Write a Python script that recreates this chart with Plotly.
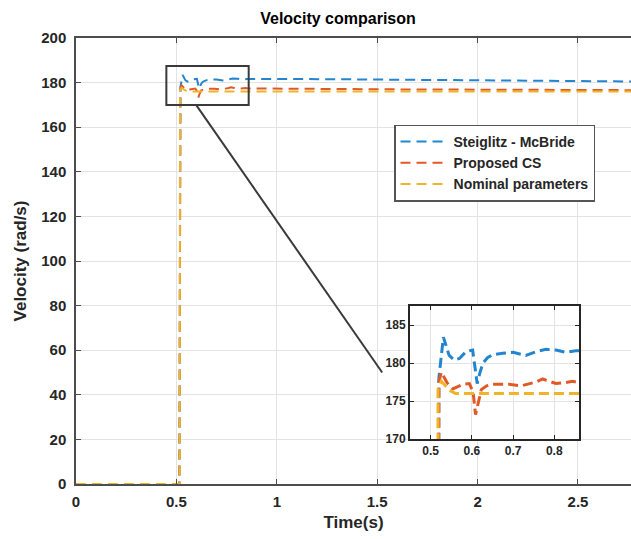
import plotly.graph_objects as go

# Step response of the motor speed for three identified models
t_sm = [0.0, 0.515, 0.52, 0.531, 0.545, 0.557, 0.57, 0.586, 0.602, 0.608, 0.613, 0.619,
        0.627, 0.638, 0.651, 0.675, 0.70, 0.731, 0.756, 0.78, 0.804, 0.828, 0.852,
        0.95, 1.1, 1.3, 1.5, 1.8, 2.0, 2.3, 2.6, 2.8]
v_sm = [0.0, 0.0, 178.0, 183.4, 181.0, 180.4, 180.6, 181.5, 181.7, 179.5, 177.3, 178.6,
        180.0, 180.7, 181.1, 181.3, 181.4, 181.0, 181.5, 181.8, 181.7, 181.4, 181.6,
        181.7, 181.6, 181.5, 181.4, 181.2, 181.0, 180.8, 180.6, 180.5]

t_cs = [0.0, 0.515, 0.52, 0.526, 0.54, 0.554, 0.566, 0.578, 0.594, 0.603, 0.609, 0.615,
        0.623, 0.636, 0.65, 0.69, 0.72, 0.756, 0.772, 0.788, 0.804, 0.824, 0.844, 0.86,
        0.95, 1.2, 1.5, 1.8, 2.1, 2.4, 2.8]
v_cs = [0.0, 0.0, 177.5, 178.8, 177.4, 176.6, 176.9, 177.2, 177.3, 176.2, 173.2, 174.8,
        176.5, 177.0, 177.2, 177.2, 177.0, 177.5, 177.9, 177.6, 177.3, 177.4, 177.6, 177.4,
        177.3, 177.2, 177.0, 176.9, 176.8, 176.7, 176.6]

t_nom = [0.0, 0.516, 0.518, 0.526, 0.536, 0.546, 0.56, 0.6, 0.8, 1.2, 1.6, 2.0, 2.4, 2.8]
v_nom = [0.0, 0.0, 176.5, 177.6, 177.0, 176.4, 176.0, 176.0, 176.0, 176.0, 176.0, 176.0, 176.0, 176.0]

series_names = ["Steiglitz - McBride", "Proposed CS", "Nominal parameters"]
series_colors = ["#2384d0", "#e05a28", "#efb429"]
series_t = [t_sm, t_cs, t_nom]
series_v = [v_sm, v_cs, v_nom]

main_yticks = list(range(0, 201, 20))
main_xticks = [0, 0.5, 1, 1.5, 2, 2.5]
main_xticklabels = ["0", "0.5", "1", "1.5", "2", "2.5"]
inset_xticks = [0.5, 0.6, 0.7, 0.8]
inset_yticks = [170, 175, 180, 185]

# zoom window shown in the inset
zoom_x = [0.45, 0.86]
zoom_y = [170, 187.5]

FONT = "Liberation Sans, Arial, sans-serif"
TXT = "#262626"

fig = go.Figure()

for name, col, tt, vv in zip(series_names, series_colors, series_t, series_v):
    fig.add_trace(go.Scatter(
        x=tt, y=vv, mode="lines", name=name,
        line=dict(color=col, width=2, dash="10px,6px"),
        xaxis="x", yaxis="y"))

for name, col, tt, vv in zip(series_names, series_colors, series_t, series_v):
    fig.add_trace(go.Scatter(
        x=tt, y=vv, mode="lines", name=name, showlegend=False,
        line=dict(color=col, width=3, dash="10px,5px"),
        xaxis="x2", yaxis="y2"))

# white backing for the inset so the main grid does not show through
fig.add_shape(type="rect", xref="x2 domain", yref="y2 domain",
              x0=0, x1=1, y0=0, y1=1, layer="below",
              fillcolor="white", line=dict(width=0))

# zoom window and connector line on the main axes
fig.add_shape(type="rect", xref="x", yref="y",
              x0=zoom_x[0], x1=zoom_x[1], y0=zoom_y[0], y1=zoom_y[1],
              line=dict(color="#3a3a3a", width=2), layer="above")
fig.add_shape(type="line", xref="x", yref="y",
              x0=0.598, y0=zoom_y[0], x1=1.525, y1=50,
              line=dict(color="#3a3a3a", width=2), layer="above")

axis_common = dict(
    showgrid=True, gridcolor="#e3e3e3", gridwidth=1,
    showline=True, ticks="inside", ticklen=5,
    tickfont=dict(family=FONT, size=15, color=TXT, weight="bold"),
    zeroline=False,
)

fig.update_layout(
    width=631, height=539,
    margin=dict(l=76, r=0, t=38, b=55),
    paper_bgcolor="white", plot_bgcolor="white",
    font=dict(family=FONT, color=TXT),
    title=dict(text="Velocity comparison", x=338 / 631, xanchor="center",
               y=1 - 18 / 539, yanchor="middle", xref="container", yref="container",
               font=dict(family=FONT, size=16, color="#000000", weight="bold")),
    xaxis=dict(**axis_common, range=[0, 2.764], tickvals=main_xticks,
               ticktext=main_xticklabels, mirror="ticks", ticklabelstandoff=3,
               linecolor="#4d4d4d", linewidth=1.5, tickcolor="#4d4d4d",
               domain=[0, 1], anchor="y",
               title=dict(text="Time(s)", standoff=7,
                          font=dict(family=FONT, size=17, color=TXT, weight="bold"))),
    yaxis=dict(**axis_common, range=[0, 200], tickvals=main_yticks,
               ticklabelstandoff=5,
               linecolor="#4d4d4d", linewidth=1.5, tickcolor="#4d4d4d",
               domain=[0, 1], anchor="x",
               title=dict(text="Velocity (rad/s)", standoff=10,
                          font=dict(family=FONT, size=17, color=TXT, weight="bold"))),
    xaxis2=dict(showgrid=True, gridcolor="#e3e3e3", showline=True, mirror="ticks",
                linecolor="#262626", linewidth=2, ticks="inside", ticklen=4,
                tickcolor="#262626", zeroline=False,
                range=zoom_x, tickvals=inset_xticks,
                tickfont=dict(family=FONT, size=12, color=TXT, weight="bold"),
                domain=[0.6018, 0.9063], anchor="y2"),
    yaxis2=dict(showgrid=True, gridcolor="#e3e3e3", showline=True, mirror="ticks",
                linecolor="#262626", linewidth=2, ticks="inside", ticklen=4,
                tickcolor="#262626", zeroline=False,
                range=zoom_y, tickvals=inset_yticks,
                tickfont=dict(family=FONT, size=12, color=TXT, weight="bold"),
                domain=[0.1009, 0.399], anchor="x2"),
    legend=dict(x=0.573, y=0.806, xanchor="left", yanchor="top",
                bgcolor="white", bordercolor="#555555", borderwidth=1.5,
                font=dict(family=FONT, size=14, color=TXT, weight="bold"),
                tracegroupgap=0, itemwidth=48),
    showlegend=True,
)

fig.write_html("out.html")
